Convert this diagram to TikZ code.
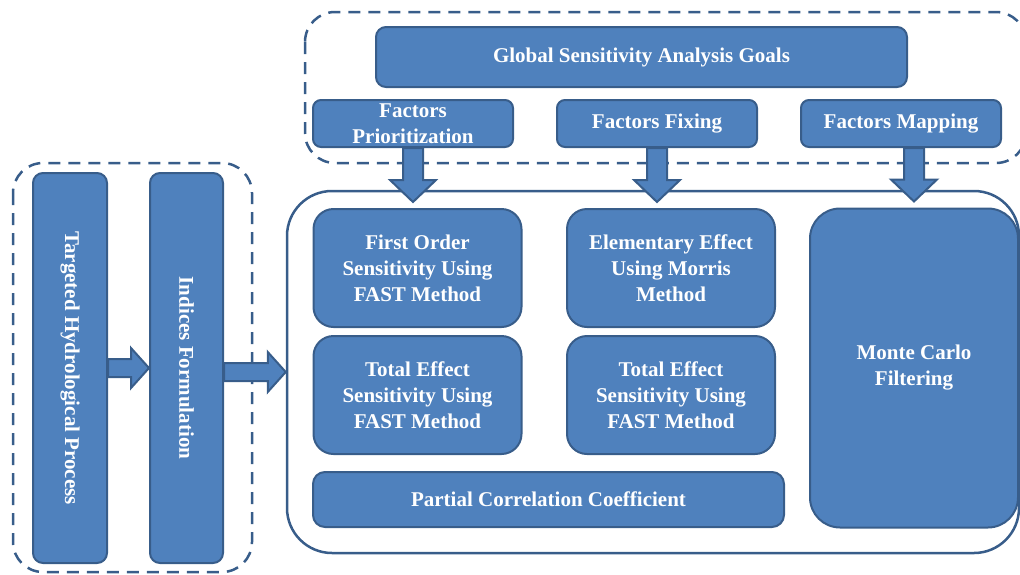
\documentclass[tikz,border=0pt]{standalone}
\usepackage{fontspec}
\setmainfont{Liberation Serif}
\usetikzlibrary{calc}

\definecolor{boxfill}{HTML}{4F81BD}
\definecolor{boxline}{HTML}{385D8A}

\tikzset{box/.style = {draw=boxline, fill=boxfill, line width=2pt, rounded corners=10pt,
    text=white, font=\bfseries\fontsize{21}{26}\selectfont, align=center, inner sep=3pt}}
\tikzset{method/.style = {box, rounded corners=20pt, minimum width=208pt, minimum height=118pt}}
\tikzset{goal/.style = {box, rounded corners=8pt, minimum width=200pt, minimum height=47pt}}
\tikzset{group/.style = {draw=boxline, dash pattern=on 12pt off 8pt, line width=2.5pt, rounded corners=30pt}}
\tikzset{blockarrow/.style = {fill=boxfill, draw=boxline, line width=2pt, line join=miter}}

% block arrows, tip at the second point
\newcommand{\harrow}[2]{%
  \filldraw[blockarrow] let \p1=(#1), \p2=(#2) in
    (\x1,{\y2+9pt}) -- ({\x2-18pt},{\y2+9pt}) -- ({\x2-18pt},{\y2+20pt}) -- (\x2,\y2)
    -- ({\x2-18pt},{\y2-20pt}) -- ({\x2-18pt},{\y2-9pt}) -- (\x1,{\y2-9pt}) -- cycle;}
\newcommand{\darrow}[2]{%
  \filldraw[blockarrow] let \p1=(#1), \p2=(#2) in
    ({\x1-10pt},\y1) -- ({\x1-10pt},{\y2+28pt}) -- ({\x1-23pt},{\y2+28pt}) -- (\x1,{\y2+6pt})
    -- ({\x1+23pt},{\y2+28pt}) -- ({\x1+10pt},{\y2+28pt}) -- ({\x1+10pt},\y1) -- cycle;}

\begin{document}
\begin{tikzpicture}[x=1pt, y=-1pt]
  \useasboundingbox (0,0) rectangle (1020,574);

  % groups
  \draw[group] (13,163) rectangle (252,572);
  \draw[group] (305,12) rectangle (1026,163);
  \node[draw=boxline, line width=2.5pt, rounded corners=45pt,
        minimum width=732pt, minimum height=362pt] (frame) at (653,372) {};

  % process (rotated: north is on the right)
  \node[box, rotate=-90, minimum width=390pt, minimum height=74pt] (thp) at (70,368) {Targeted Hydrological Process};
  \node[box, rotate=-90, minimum width=390pt, minimum height=73pt] (idx) at (186.5,368) {Indices Formulation};

  % goals
  \node[box, minimum width=531pt, minimum height=60pt] (gsa) at (641.5,57) {Global Sensitivity Analysis Goals};
  \node[goal] (fp) at (413,123.5) {Factors\\Prioritization};
  \node[goal] (fx) at (657,123.5) {Factors Fixing};
  \node[goal] (fm) at (901,123.5) {Factors Mapping};

  % methods
  \node[method] (fo) at (417.5,268) {First Order\\Sensitivity Using\\FAST Method};
  \node[method] (ee) at (671,268) {Elementary Effect\\Using Morris\\Method};
  \node[method] (te1) at (417.5,395) {Total Effect\\Sensitivity Using\\FAST Method};
  \node[method] (te2) at (671,395) {Total Effect\\Sensitivity Using\\FAST Method};
  \node[box, rounded corners=12pt, minimum width=471pt, minimum height=55pt] (pcc) at (548.5,499.5) {Partial Correlation Coefficient};
  \node[method, rounded corners=30pt, minimum height=319pt] (mc) at (914,368) {Monte Carlo\\Filtering};

  \harrow{thp.north}{idx.south}
  \harrow{idx.north}{frame.west}
  \darrow{fp.south}{fo.north}
  \darrow{fx.south}{ee.north}
  \darrow{fm.south -| mc.north}{mc.north}
\end{tikzpicture}
\end{document}
